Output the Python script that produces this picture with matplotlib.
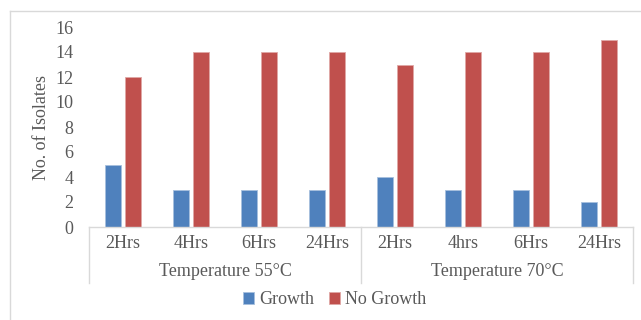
import matplotlib.pyplot as plt
import numpy as np
from matplotlib.lines import Line2D
from matplotlib.transforms import blended_transform_factory

# data
hours = ['2Hrs', '4Hrs', '6Hrs', '24Hrs', '2Hrs', '4hrs', '6Hrs', '24Hrs']
groups = ['Temperature 55°C', 'Temperature 70°C']
growth = [5, 3, 3, 3, 4, 3, 3, 2]
no_growth = [12, 14, 14, 14, 13, 14, 14, 15]

plt.rcParams['font.family'] = ['Liberation Serif', 'DejaVu Serif']
txt = '#595959'
grey = '#D9D9D9'

fig = plt.figure(figsize=(6.41, 3.20), dpi=100)
ax = fig.add_axes([89/641, 1 - 227/320, 544/641, 200/320])

x = np.arange(len(hours))
ax.bar(x - 0.145, growth, 0.228, color='#4F81BD', edgecolor='#A7C0DE', linewidth=0.6, label='Growth')
ax.bar(x + 0.145, no_growth, 0.228, color='#C0504D', edgecolor='#E0A8A6', linewidth=0.6, label='No Growth')

ax.set_xlim(-0.5, len(hours) - 0.5)
ax.set_ylim(0, 16)
ax.set_yticks(range(0, 17, 2))
ax.set_xticks(x)
ax.set_xticklabels(hours)
ax.tick_params(axis='both', length=0, labelsize=13, colors=txt)
ax.tick_params(axis='y', pad=11)
ax.tick_params(axis='x', pad=6)
for s in ['top', 'right', 'left']:
    ax.spines[s].set_visible(False)
ax.spines['bottom'].set_color(grey)
ax.spines['bottom'].set_linewidth(1)

ax.set_ylabel('No. of Isolates', fontsize=13, color=txt)
ax.yaxis.set_label_coords(-0.072, 0.5)

# grouped category axis
tr = blended_transform_factory(ax.transData, ax.transAxes)
for sx in [-0.5, 3.5, 7.5]:
    ax.plot([sx, sx], [0, -0.28], color=grey, lw=1, transform=tr, clip_on=False)
for i, g in enumerate(groups):
    ax.text(1.5 + 4 * i, -0.225, g, transform=tr, ha='center', va='center', fontsize=13, color=txt)

fig.legend(loc='center', bbox_to_anchor=(335/641, 1 - 300/320), ncol=2, frameon=False,
           fontsize=13, labelcolor=txt, handlelength=0.6, handleheight=0.6,
           handletextpad=0.3, columnspacing=0.8)

# outer chart border
fig.add_artist(Line2D([10/641, 10/641], [0, 1 - 11/320], color=grey, lw=1))
fig.add_artist(Line2D([10/641, 1], [1 - 11/320, 1 - 11/320], color=grey, lw=1))

fig.savefig('out.png', dpi=100)
